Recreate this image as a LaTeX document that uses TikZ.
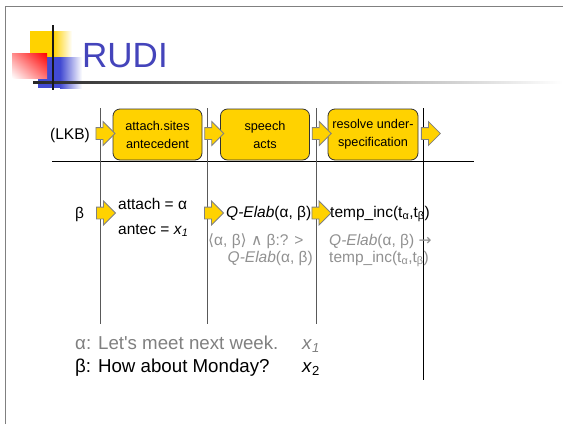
\documentclass[tikz,border=0pt]{standalone}
\usepackage{fontspec}
\setmainfont{Liberation Sans}[Ligatures=TeXOff]
\newfontfamily\symfont{DejaVu Sans}
\usetikzlibrary{shapes.arrows,calc,shadings}
\definecolor{gold}{RGB}{255,210,0}
\definecolor{titleblue}{RGB}{68,68,187}
\definecolor{logoblue}{RGB}{66,74,210}
\definecolor{graytext}{RGB}{145,145,145}
\definecolor{graytextb}{RGB}{128,128,128}
\begin{document}
\begin{tikzpicture}[x=1pt,y=-1pt,
  blk/.style={single arrow, draw=black!50, fill=gold, minimum height=19pt,
    minimum width=23pt, single arrow head extend=6pt, inner xsep=0pt,
    inner ysep=5.5pt, line width=0.8pt},
  stage/.style={draw=black!80, fill=gold, rounded corners=7pt,
    minimum width=89pt, minimum height=51pt, align=center,
    font=\fontsize{12.7}{18}\selectfont, line width=0.8pt, inner sep=0pt},
  lbl/.style={anchor=base west, inner sep=0pt, font=\fontsize{15.5}{18}\selectfont},
  glbl/.style={lbl, text=graytext},
  big/.style={anchor=base west, inner sep=0pt, font=\fontsize{18.7}{20}\selectfont},
  lane/.style={black!65, line width=0.9pt}]
\useasboundingbox (0,0) rectangle (563,424);
\fill[white] (0,0) rectangle (563,424);
% frame
\draw[black!50, line width=1.5pt] (5.5,424) -- (5.5,6.5) -- (563,6.5);
% logo
\fill[gold] (30,31) rectangle (53,58);
\shade[left color=gold, right color=white] (53,31) rectangle (72,58);
\fill[logoblue] (38,57) rectangle (60,88);
\shade[left color=logoblue, right color=white] (60,57) rectangle (82,88);
\shade[upper right=red, lower left=white, upper left=red!45!white, lower right=red!55!white] (12,53) rectangle (47,78);
\shade[left color=black!85, right color=white] (33,81) rectangle (563,83.5);
\draw[black!90, line width=2pt] (52.7,25) -- (52.7,90);
\node[anchor=base west, inner sep=0pt, text=titleblue, font=\fontsize{35}{40}\selectfont] (title) at (82,67) {RUDI};
% lanes
\draw[black, line width=0.9pt] (52,161) -- (474,161);
\foreach \x in {100,207,316} \draw[lane] (\x,108) -- (\x,324);
\draw[black, line width=1pt] (423,108) -- (423,380);
% stages
\node[stage] (b1) at (157.5,134.5) {attach.sites\\antecedent};
\node[stage] (b2) at (265,134.5) {speech\\acts};
\node[stage, minimum width=90pt] (b3) at (373,134.5) {resolve under-\\specification};
\node[lbl] (lkb) at (50,139) {(LKB)};
\node[blk] (a0) at (102.5,133.5) {};
\node[blk] (a1) at ($(b1.east)!0.5!(b2.west)+(0,-1)$) {};
\node[blk] (a2) at ($(b2.east)!0.5!(b3.west)+(0,-1)$) {};
\node[blk] (a3) at ($(b3.east)+(9.5,-1)$) {};
% row 2
\node[lbl] (beta) at (75,218) {β};
\node[lbl] (att) at (118,209) {attach = α};
\node[lbl] (ant) at (118,234) {antec = \textit{x}\textsubscript{\textit{1}}};
\node[lbl] (qe) at (226,217) {\textit{Q-Elab}(α, β)};
\node[lbl] (ti) at (330,217) {temp\_inc(t\textsubscript{α},t\textsubscript{β})};
\node[blk] (r1) at (103,213) {};
\node[blk] (r2) at (211,213) {};
\node[blk] (r3) at (318.5,213) {};
% gray
\node[glbl] (g1) at (208,245) {{\symfont⟨}α, β{\symfont⟩} {\symfont∧} β:? >};
\node[glbl, anchor=base east] (g2) at (313,262) {\textit{Q-Elab}(α, β)};
\node[glbl] (g3) at (329,245) {\textit{Q-Elab}(α, β) {\symfont→}};
\node[glbl] (g4) at (329,262) {temp\_inc(t\textsubscript{α},t\textsubscript{β})};
% bottom
\node[big, text=graytextb] (s1) at (75,349) {α: Let's meet next week.};
\node[big, text=graytextb] (x1) at (302,349) {\textit{x}\textsubscript{\textit{1}}};
\node[big] (s2) at (75,372) {β: How about Monday?};
\node[big] (x2) at (302,372) {\textit{x}\textsubscript{2}};
\end{tikzpicture}
\end{document}
